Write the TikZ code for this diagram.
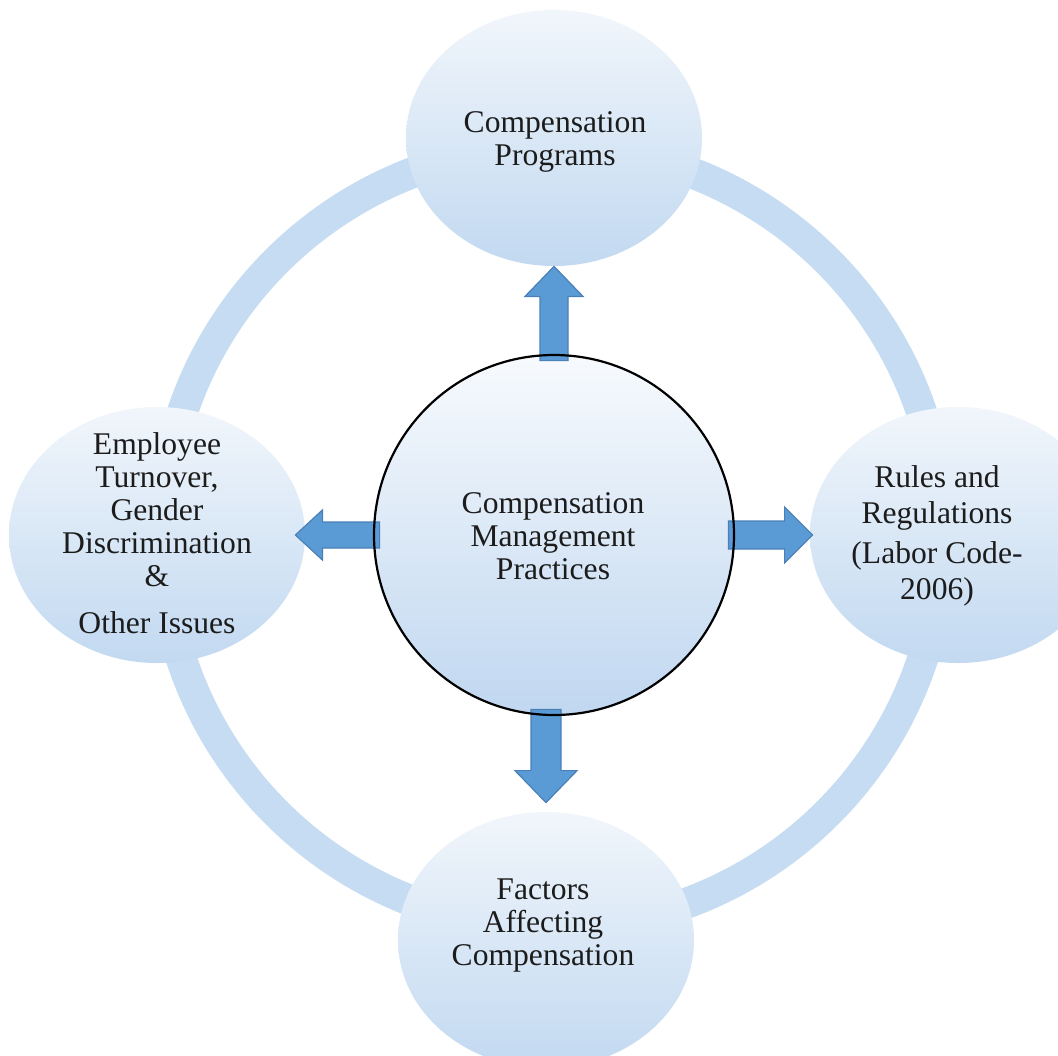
\documentclass[tikz,border=0pt]{standalone}
\usepackage{fontspec}
\setmainfont{Liberation Serif}
\usetikzlibrary{shapes.geometric,calc}
\definecolor{ringc}{HTML}{C6DCF2}
\definecolor{satTop}{HTML}{F1F6FB}
\definecolor{satBot}{HTML}{C2D9F1}
\definecolor{cenTop}{HTML}{F7FAFD}
\definecolor{cenBot}{HTML}{C0D7F0}
\definecolor{arrc}{HTML}{5B9BD5}
\definecolor{arrb}{HTML}{4A80B8}
\definecolor{txt}{HTML}{1C1C1C}
\begin{document}
\begin{tikzpicture}[x=0.5pt,y=-0.5pt,
  sat/.style={ellipse, minimum width=148pt, minimum height=128pt, inner sep=0pt,
    top color=satTop, bottom color=satBot, draw=none},
  cen/.style={circle, minimum size=180pt, inner sep=0pt,
    top color=cenTop, bottom color=cenBot, draw=none},
  lbl/.style={align=center, text=txt, inner sep=0pt,
    font=\fontsize{15.8}{16.5}\selectfont},
  barrow/.style={fill=arrc, draw=arrb, line width=0.6pt, line join=miter},
  ringline/.style={draw=ringc, line width=15.5pt}]
\useasboundingbox (0,0) rectangle (1058,1055);
\clip (0,0) rectangle (1058,1055);
\fill[white] (0,0) rectangle (1058,1055);
% ring
\draw[ringline] (552,537) circle [radius=195pt];
% satellite ellipses
\node[sat] (T) at (554,138) {};
\node[sat] (L) at (157,535) {};
\node[sat] (R) at (958,535) {};
\node[sat] (B) at (546,940) {};
% central circle
\node[cen] (C) at (554,535) {};
% labels
\node[lbl] (Tt) at (555,142) {Compensation\\Programs};
\node[lbl] (Lt) at (157,533) {Employee\\Turnover,\\Gender\\Discrimination\\\&\\[7pt]Other Issues};
\node[lbl, font=\fontsize{15.8}{18}\selectfont] (Rt) at (937,536) {Rules and\\Regulations\\[2pt](Labor Code-\\2006)};
\node[lbl] (Bt) at (543,925) {Factors\\Affecting\\Compensation};
\node[lbl] (Ct) at (553,536) {Compensation\\Management\\Practices};
% arrow reference points
\coordinate (tipU) at (T.south);
\coordinate (baseU) at (T.south |- C.north);
\coordinate (tipD) at ($(B.north)+(0,-9)$);
\coordinate (baseD) at (B.north |- C.south);
\coordinate (tipL) at ($(L.east)+(-10,0)$);
\coordinate (baseL) at (C.west);
\coordinate (tipR) at ($(R.west)+(3,0)$);
\coordinate (baseR) at (C.east);
% block arrows
\draw[barrow] ($(baseU)+(-14,6)$) -- ($(tipU)+(-14,30)$) -- ($(tipU)+(-29,30)$) -- (tipU)
  -- ($(tipU)+(29,30)$) -- ($(tipU)+(14,30)$) -- ($(baseU)+(14,6)$) -- cycle;
\draw[barrow] ($(baseD)+(-15,-6)$) -- ($(tipD)+(-15,-32)$) -- ($(tipD)+(-31,-32)$) -- (tipD)
  -- ($(tipD)+(31,-32)$) -- ($(tipD)+(15,-32)$) -- ($(baseD)+(15,-6)$) -- cycle;
\draw[barrow] ($(baseL)+(6,-13)$) -- ($(tipL)+(27,-13)$) -- ($(tipL)+(27,-25)$) -- (tipL)
  -- ($(tipL)+(27,25)$) -- ($(tipL)+(27,13)$) -- ($(baseL)+(6,13)$) -- cycle;
\draw[barrow] ($(baseR)+(-6,-14)$) -- ($(tipR)+(-28,-14)$) -- ($(tipR)+(-28,-28)$) -- (tipR)
  -- ($(tipR)+(-28,28)$) -- ($(tipR)+(-28,14)$) -- ($(baseR)+(-6,14)$) -- cycle;
% central border on top
\draw[black, line width=1.1pt] (C.center) circle [radius=90pt];
\end{tikzpicture}
\end{document}
